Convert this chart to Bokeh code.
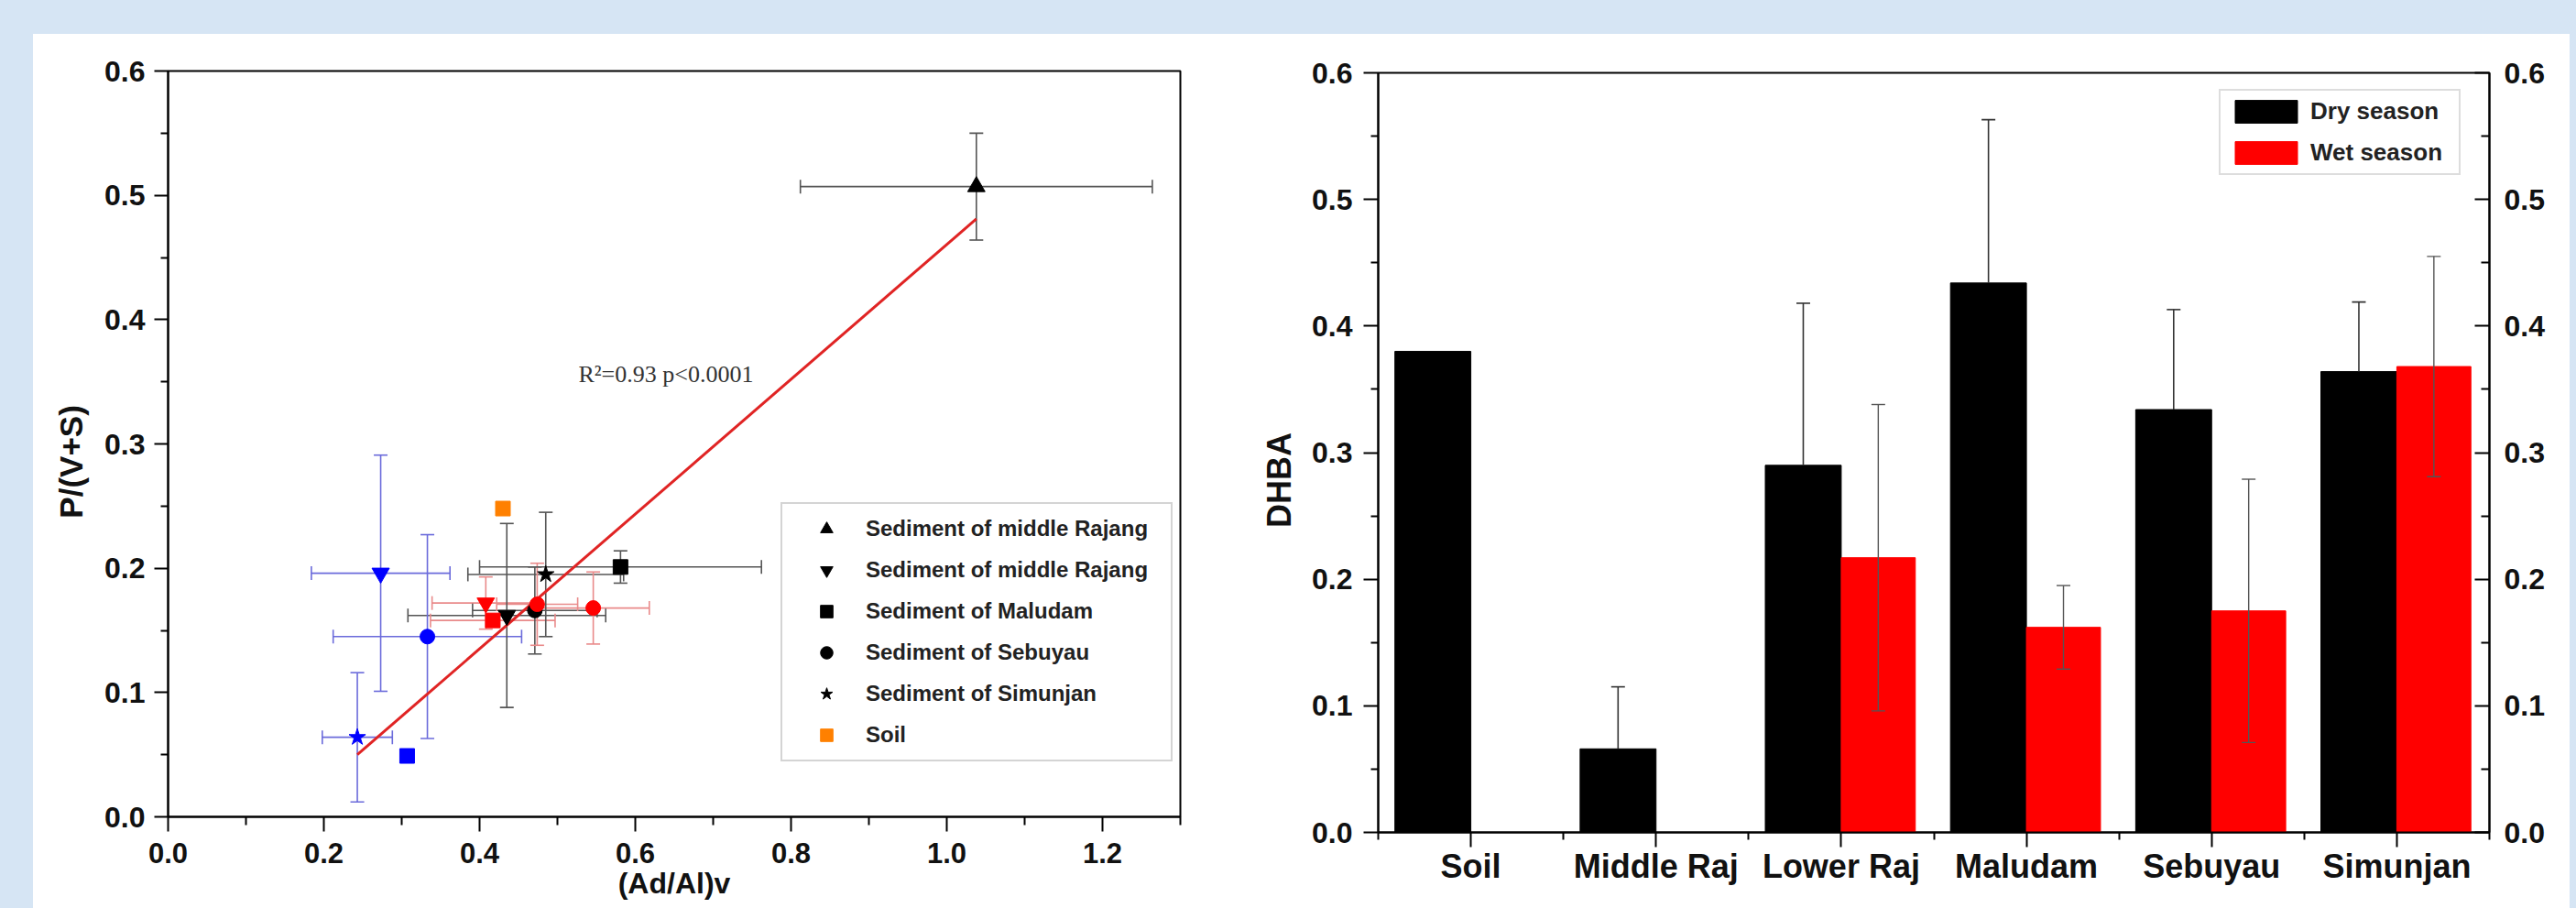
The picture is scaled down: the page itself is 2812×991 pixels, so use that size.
import math
from bokeh.plotting import figure
from bokeh.models import (ColumnDataSource, Legend, LegendItem, Label, LinearAxis, Range1d,
                          FixedTicker, PrintfTickFormatter, Div)
from bokeh.layouts import row, column
from bokeh.embed import file_html
from bokeh.resources import INLINE

# ---------------- data: left panel (scatter) ----------------
legend_labels = ["Sediment of middle Rajang", "Sediment of middle Rajang", "Sediment of Maludam",
                 "Sediment of Sebuyau", "Sediment of Simunjan", "Soil"]
group_markers = ["triangle", "inverted_triangle", "square", "circle", "star", "square"]

pt_group = [0, 1, 1, 1, 2, 2, 2, 3, 3, 3, 3, 4, 4, 5]
pt_color = ["black", "black", "red", "blue", "black", "red", "blue",
            "black", "red", "red", "blue", "black", "blue", "orange"]
pt_x = [1.038, 0.435, 0.408, 0.273, 0.581, 0.417, 0.307, 0.471, 0.474, 0.546, 0.333, 0.485, 0.243, 0.430]
pt_y = [0.507, 0.162, 0.172, 0.196, 0.201, 0.158, 0.049, 0.166, 0.171, 0.168, 0.145, 0.195, 0.064, 0.248]
pt_xerr = [0.226, 0.127, 0.069, 0.089, 0.181, 0.080, 0.0, 0.080, 0.052, 0.072, 0.121, 0.100, 0.045, 0.0]
pt_yerr = [0.043, 0.074, 0.021, 0.095, 0.013, 0.0, 0.0, 0.035, 0.033, 0.029, 0.082, 0.050, 0.052, 0.0]
fit_x = [0.243, 1.038]
fit_y = [0.050, 0.481]
fit_text = "R\u00b2=0.93  p<0.0001"
x_title_left = "(Ad/Al)v"
y_title_left = "P/(V+S)"
x_ticks_left = [0.0, 0.2, 0.4, 0.6, 0.8, 1.0, 1.2]
x_minor_left = [0.1, 0.3, 0.5, 0.7, 0.9, 1.1, 1.3]
y_ticks = [0.0, 0.1, 0.2, 0.3, 0.4, 0.5, 0.6]
y_minor = [0.05, 0.15, 0.25, 0.35, 0.45, 0.55]

# ---------------- data: right panel (bars) ----------------
categories = ["Soil", "Middle Raj", "Lower Raj", "Maludam", "Sebuyau", "Simunjan"]
dry = [0.380, 0.066, 0.290, 0.434, 0.334, 0.364]
dry_err = [0.0, 0.049, 0.128, 0.129, 0.079, 0.055]
wet = [None, None, 0.217, 0.162, 0.175, 0.368]
wet_err = [None, None, 0.121, 0.033, 0.104, 0.087]
series_names = ["Dry season", "Wet season"]
y_title_right = "DHBA"

# ---------------- styles ----------------
BG = "#D6E5F4"
FONT = "Liberation Sans"
NBSP = "\u00a0"
fill_map = {"black": "#000000", "red": "#FF0000", "blue": "#0000FF", "orange": "#FF8000"}
err_map = {"black": "#555555", "red": "#E98A8A", "blue": "#6B6BDB", "orange": "#FF8000"}


def style_axis(ax, tick_size="31px"):
    ax.axis_line_width = 2
    ax.axis_line_color = "black"
    ax.major_tick_line_width = 2
    ax.minor_tick_line_width = 2
    ax.major_tick_line_color = "black"
    ax.minor_tick_line_color = "black"
    ax.major_label_text_font = FONT
    ax.major_label_text_font_style = "bold"
    ax.major_label_text_font_size = tick_size
    ax.major_label_text_color = "#111111"
    ax.axis_label_text_font = FONT
    ax.axis_label_text_font_style = "bold"
    ax.axis_label_text_color = "#111111"


def no_align(p):
    try:
        p.frame_align = False
    except Exception:
        pass


# ================= left figure =================
p1 = figure(width=1294, height=954, frame_width=1105, frame_height=814,
            output_backend="svg", toolbar_location=None,
            x_range=Range1d(0, 1.3), y_range=Range1d(0, 0.6),
            min_border_left=147, min_border_right=42, min_border_top=40, min_border_bottom=100)
no_align(p1)
p1.border_fill_color = "white"
p1.background_fill_color = "white"
p1.outline_line_color = "black"
p1.outline_line_width = 2
p1.xgrid.visible = False
p1.ygrid.visible = False

xa = p1.xaxis[0]
xa.ticker = FixedTicker(ticks=x_ticks_left, minor_ticks=x_minor_left)
xa.formatter = PrintfTickFormatter(format="%.1f")
style_axis(xa, "31px")
xa.major_tick_out = 16
xa.major_tick_in = 0
xa.minor_tick_out = 9
xa.minor_tick_in = 0
xa.major_label_standoff = 12
xa.axis_label = x_title_left
xa.axis_label_text_font_size = "32px"
xa.axis_label_standoff = 1

ya = p1.yaxis[0]
ya.ticker = FixedTicker(ticks=y_ticks, minor_ticks=y_minor)
ya.formatter = PrintfTickFormatter(format="%.1f")
style_axis(ya, "32px")
ya.major_tick_out = 15
ya.major_tick_in = 0
ya.minor_tick_out = 8
ya.minor_tick_in = 0
ya.major_label_standoff = 10
ya.axis_label = y_title_left + NBSP * 4
ya.axis_label_text_font_size = "35px"
ya.axis_label_standoff = 14

# error bars
ex0, ex1, exy, exc = [], [], [], []
ey0, ey1, eyx, eyc = [], [], [], []
for i in range(len(pt_x)):
    c = err_map[pt_color[i]]
    if pt_xerr[i] > 0:
        ex0.append(pt_x[i] - pt_xerr[i]); ex1.append(pt_x[i] + pt_xerr[i]); exy.append(pt_y[i]); exc.append(c)
    if pt_yerr[i] > 0:
        ey0.append(pt_y[i] - pt_yerr[i]); ey1.append(pt_y[i] + pt_yerr[i]); eyx.append(pt_x[i]); eyc.append(c)

p1.segment(x0=ex0, x1=ex1, y0=exy, y1=exy, line_color=exc, line_width=1.6)
p1.scatter(x=ex0 + ex1, y=exy + exy, marker="dash", size=15, angle=math.pi / 2,
           line_color=exc + exc, line_width=1.6)
p1.segment(x0=eyx, x1=eyx, y0=ey0, y1=ey1, line_color=eyc, line_width=1.6)
p1.scatter(x=eyx + eyx, y=ey0 + ey1, marker="dash", size=15,
           line_color=eyc + eyc, line_width=1.6)

# regression line
p1.line(fit_x, fit_y, line_color="#E02424", line_width=3)

# markers by shape group
group_renderers = []
legend_index = []
for g, mk in enumerate(group_markers):
    ids = [i for i in range(len(pt_x)) if pt_group[i] == g]
    src = ColumnDataSource(dict(x=[pt_x[i] for i in ids], y=[pt_y[i] for i in ids],
                                c=[fill_map[pt_color[i]] for i in ids]))
    size = 19 if mk in ("triangle", "inverted_triangle", "star") else 16
    r = p1.scatter("x", "y", source=src, marker=mk, size=size, fill_color="c", line_color="c")
    group_renderers.append(r)
    k = 0
    for j, i in enumerate(ids):
        if pt_color[i] in ("black", "orange"):
            k = j
            break
    legend_index.append(k)

leg1 = Legend(items=[LegendItem(label=legend_labels[g], renderers=[group_renderers[g]], index=legend_index[g])
                     for g in range(len(group_markers))],
              location=(669, 60))
leg1.label_text_font = FONT
leg1.label_text_font_style = "bold"
leg1.label_text_font_size = "24px"
leg1.label_text_color = "#222222"
leg1.glyph_width = 76
leg1.glyph_height = 34
leg1.label_height = 34
leg1.label_width = 323
leg1.spacing = 11
leg1.padding = 10
leg1.margin = 0
leg1.label_standoff = 5
leg1.border_line_color = "#AAAAAA"
leg1.border_line_width = 2
leg1.background_fill_color = "white"
leg1.background_fill_alpha = 1
p1.add_layout(leg1)

p1.add_layout(Label(x=0.527, y=0.356, text=fit_text, text_font="Liberation Serif",
                    text_font_size="26px", text_color="#333333", text_baseline="alphabetic"))

# ================= right figure =================
p2 = figure(width=1475, height=954, frame_width=1213, frame_height=829,
            output_backend="svg", toolbar_location=None,
            x_range=Range1d(0.5, 6.5), y_range=Range1d(0, 0.6),
            min_border_left=174, min_border_right=88, min_border_top=42, min_border_bottom=83)
no_align(p2)
p2.border_fill_color = "white"
p2.background_fill_color = "white"
p2.outline_line_color = "black"
p2.outline_line_width = 2
p2.xgrid.visible = False
p2.ygrid.visible = False

idx = list(range(1, len(categories) + 1))
dry_x = [i - 0.205 for i in idx]
wet_ids = [k for k in range(len(categories)) if wet[k] is not None]
wet_x = [idx[k] + 0.2 for k in wet_ids]
wet_v = [wet[k] for k in wet_ids]
wet_e = [wet_err[k] for k in wet_ids]

r_dry = p2.vbar(x=dry_x, top=dry, width=0.41, bottom=0, fill_color="black", line_color="black")
r_wet = p2.vbar(x=wet_x, top=wet_v, width=0.40, bottom=0, fill_color="#FF0000", line_color="#FF0000")

# dry error bars (upper half visible)
dx = [dry_x[k] for k in range(len(dry)) if dry_err[k] > 0]
d0 = [dry[k] for k in range(len(dry)) if dry_err[k] > 0]
d1 = [dry[k] + dry_err[k] for k in range(len(dry)) if dry_err[k] > 0]
p2.segment(x0=dx, x1=dx, y0=d0, y1=d1, line_color="#333333", line_width=1.6)
p2.scatter(x=dx, y=d1, marker="dash", size=15, line_color="#333333", line_width=1.6)
# wet error bars (both directions)
w0 = [v - e for v, e in zip(wet_v, wet_e)]
w1 = [v + e for v, e in zip(wet_v, wet_e)]
p2.segment(x0=wet_x, x1=wet_x, y0=w0, y1=w1, line_color="#555555", line_width=1.4)
p2.scatter(x=wet_x + wet_x, y=w0 + w1, marker="dash", size=15, line_color="#555555", line_width=1.4)

bx = p2.xaxis[0]
bx.ticker = FixedTicker(ticks=idx, minor_ticks=[i - 0.5 for i in idx] + [idx[-1] + 0.5])
bx.major_label_overrides = {i: categories[i - 1] for i in idx}
style_axis(bx, "36px")
bx.major_tick_out = 16
bx.major_tick_in = 0
bx.minor_tick_out = 8
bx.minor_tick_in = 0
bx.major_label_standoff = 0

by = p2.yaxis[0]
by.ticker = FixedTicker(ticks=y_ticks, minor_ticks=y_minor)
by.formatter = PrintfTickFormatter(format="%.1f")
style_axis(by, "32px")
by.major_tick_out = 16
by.major_tick_in = 0
by.minor_tick_out = 8
by.minor_tick_in = 0
by.major_label_standoff = 12
by.axis_label = y_title_right + NBSP * 6
by.axis_label_text_font_size = "36px"
by.axis_label_standoff = 12

ry = LinearAxis(ticker=FixedTicker(ticks=y_ticks, minor_ticks=y_minor),
                formatter=PrintfTickFormatter(format="%.1f"))
style_axis(ry, "32px")
ry.major_tick_in = 16
ry.major_tick_out = 0
ry.minor_tick_in = 9
ry.minor_tick_out = 0
ry.major_label_standoff = 16
p2.add_layout(ry, "right")

leg2 = Legend(items=[LegendItem(label=series_names[0], renderers=[r_dry]),
                     LegendItem(label=series_names[1], renderers=[r_wet])],
              location=(918, 717))
leg2.label_text_font = FONT
leg2.label_text_font_style = "bold"
leg2.label_text_font_size = "26px"
leg2.label_text_color = "#222222"
leg2.glyph_width = 85
leg2.glyph_height = 31
leg2.label_height = 31
leg2.label_width = 155
leg2.spacing = 14
leg2.padding = 7
leg2.margin = 0
leg2.label_standoff = 6
leg2.border_line_color = "#BBBBBB"
leg2.border_line_width = 2
leg2.background_fill_color = "white"
leg2.background_fill_alpha = 1
p2.add_layout(leg2)

# ================= page layout =================
top_band = Div(text="", width=2812, height=37, margin=0, styles={"background-color": BG})
left_band = Div(text="", width=36, height=954, margin=0, styles={"background-color": BG})
right_band = Div(text="", width=7, height=954, margin=0, styles={"background-color": BG})
layout = column(top_band, row(left_band, column(p1), column(p2), right_band, spacing=0), spacing=0)

open("out.html", "w").write(file_html(layout, INLINE))
